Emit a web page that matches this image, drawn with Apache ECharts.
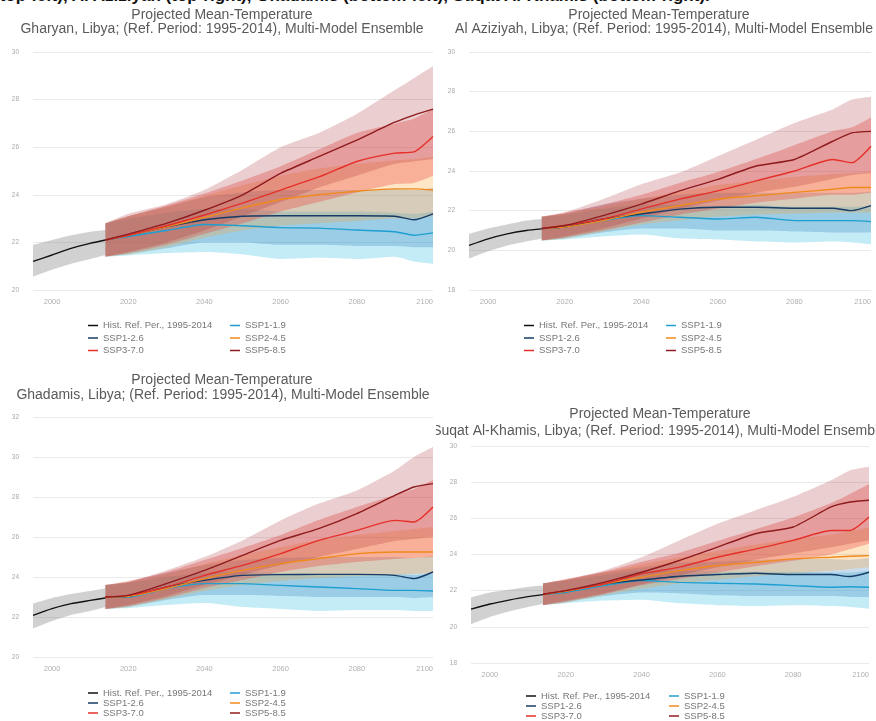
<!DOCTYPE html>
<html>
<head>
<meta charset="utf-8">
<title>Projected Mean-Temperature, Libya</title>
<script src="https://cdn.jsdelivr.net/npm/echarts@6/dist/echarts.min.js"></script>
<style>
    body { margin: 0; background: #fff; width: 876px; height: 721px; position: relative; overflow: hidden; }
    .panel { position: absolute; overflow: hidden; }
    .caption { position: absolute; left: -6px; top: -13px; white-space: nowrap; font: bold 17px/17px "Liberation Sans", Arial, sans-serif; color: #111; }
</style>
</head>
<body>
<div class="caption">(top-left), Al Aziziyah (top-right), Ghadamis (bottom-left), Suqat Al-Khamis (bottom-right).</div>
<div id="p1" class="panel" style="left:0;top:0;width:436px;height:365px"></div>
<div id="p2" class="panel" style="left:436px;top:0;width:440px;height:365px"></div>
<div id="p3" class="panel" style="left:0;top:365px;width:436px;height:356px"></div>
<div id="p4" class="panel" style="left:436px;top:365px;width:440px;height:356px"></div>
<script>
// 年份
var histYears = [1995, 2000, 2005, 2010, 2014];
var projYears = [2014, 2020, 2030, 2040, 2050, 2060, 2070, 2080, 2090, 2095, 2100];
var tickYears = [2000, 2020, 2040, 2060, 2080, 2100];

// Gharyan
var gharyanHist = [21.2, 21.47, 21.75, 21.96, 22.1];
var gharyanHistLo = [20.56, 20.85, 21.1, 21.3, 21.47];
var gharyanHistHi = [21.89, 22.1, 22.3, 22.45, 22.52];
var gharyan119 = [22.1, 22.25, 22.5, 22.75, 22.7, 22.62, 22.6, 22.52, 22.45, 22.3, 22.4];
var gharyan119Lo = [21.4, 21.45, 21.55, 21.6, 21.5, 21.3, 21.35, 21.3, 21.4, 21.2, 21.1];
var gharyan119Hi = [22.8, 23.0, 23.25, 23.4, 23.4, 23.3, 23.3, 23.3, 23.25, 23.2, 23.3];
var gharyan126 = [22.1, 22.3, 22.65, 22.95, 23.1, 23.12, 23.12, 23.12, 23.1, 22.95, 23.2];
var gharyan126Lo = [21.4, 21.5, 21.75, 22.0, 22.0, 21.9, 21.9, 21.85, 21.85, 21.8, 21.8];
var gharyan126Hi = [22.8, 23.1, 23.5, 23.9, 24.1, 24.2, 24.2, 24.2, 24.25, 24.2, 24.3];
var gharyan245 = [22.1, 22.3, 22.65, 23.05, 23.45, 23.8, 24.0, 24.15, 24.25, 24.25, 24.2];
var gharyan245Lo = [21.4, 21.5, 21.8, 22.2, 22.5, 22.7, 22.8, 22.9, 23.0, 23.0, 23.1];
var gharyan245Hi = [22.8, 23.1, 23.5, 23.95, 24.4, 24.8, 25.1, 25.3, 25.45, 25.5, 25.6];
var gharyan370 = [22.1, 22.3, 22.7, 23.15, 23.65, 24.2, 24.75, 25.4, 25.75, 25.8, 26.45];
var gharyan370Lo = [21.4, 21.55, 21.9, 22.35, 22.8, 23.3, 23.7, 24.1, 24.45, 24.5, 24.8];
var gharyan370Hi = [22.8, 23.1, 23.55, 24.05, 24.6, 25.2, 25.9, 26.6, 27.0, 27.2, 27.6];
var gharyan585 = [22.1, 22.35, 22.8, 23.35, 24.0, 24.9, 25.6, 26.3, 27.05, 27.35, 27.6];
var gharyan585Lo = [21.4, 21.6, 22.0, 22.5, 23.1, 23.7, 24.3, 24.8, 25.3, 25.4, 25.5];
var gharyan585Hi = [22.8, 23.2, 23.6, 24.2, 25.05, 26.0, 26.6, 27.4, 28.4, 28.9, 29.4];

// Al Aziziyah
var aziziyahHist = [20.25, 20.58, 20.83, 21.0, 21.08];
var aziziyahHistLo = [19.58, 19.95, 20.25, 20.45, 20.58];
var aziziyahHistHi = [20.83, 21.1, 21.3, 21.5, 21.58];
var aziziyah119 = [21.1, 21.17, 21.5, 21.75, 21.67, 21.58, 21.67, 21.5, 21.5, 21.5, 21.45];
var aziziyah119Lo = [20.5, 20.55, 20.7, 20.8, 20.6, 20.55, 20.45, 20.4, 20.45, 20.4, 20.3];
var aziziyah119Hi = [21.7, 21.8, 22.1, 22.3, 22.3, 22.25, 22.3, 22.2, 22.2, 22.2, 22.25];
var aziziyah126 = [21.1, 21.17, 21.58, 21.83, 22.08, 22.17, 22.17, 22.12, 22.12, 22.0, 22.25];
var aziziyah126Lo = [20.5, 20.6, 20.9, 21.1, 21.1, 21.0, 21.0, 20.95, 20.9, 20.9, 20.9];
var aziziyah126Hi = [21.7, 21.85, 22.3, 22.6, 22.8, 22.9, 22.9, 22.9, 22.9, 22.9, 22.95];
var aziziyah245 = [21.1, 21.17, 21.5, 21.92, 22.25, 22.58, 22.75, 22.92, 23.08, 23.17, 23.17];
var aziziyah245Lo = [20.5, 20.6, 20.95, 21.3, 21.5, 21.7, 21.8, 21.85, 21.9, 21.9, 21.9];
var aziziyah245Hi = [21.7, 21.85, 22.2, 22.6, 22.95, 23.3, 23.5, 23.7, 23.85, 23.9, 23.95];
var aziziyah370 = [21.1, 21.25, 21.58, 22.08, 22.58, 23.0, 23.5, 24.0, 24.58, 24.42, 25.25];
var aziziyah370Lo = [20.5, 20.65, 21.0, 21.4, 21.8, 22.1, 22.4, 22.6, 22.8, 22.8, 22.9];
var aziziyah370Hi = [21.7, 21.9, 22.3, 22.8, 23.4, 23.95, 24.6, 25.3, 26.0, 26.2, 26.7];
var aziziyah585 = [21.1, 21.25, 21.75, 22.33, 23.0, 23.58, 24.25, 24.58, 25.5, 25.92, 26.0];
var aziziyah585Lo = [20.5, 20.7, 21.1, 21.6, 22.1, 22.5, 22.9, 23.2, 23.6, 23.8, 23.9];
var aziziyah585Hi = [21.7, 21.92, 22.58, 23.33, 23.92, 24.75, 25.58, 26.42, 27.1, 27.6, 27.75];

// Ghadamis
var ghadamisHist = [22.08, 22.42, 22.67, 22.83, 22.95];
var ghadamisHistLo = [21.42, 21.8, 22.1, 22.3, 22.5];
var ghadamisHistHi = [22.67, 22.95, 23.15, 23.3, 23.42];
var ghadamis119 = [23.0, 23.0, 23.42, 23.67, 23.67, 23.58, 23.5, 23.42, 23.33, 23.33, 23.3];
var ghadamis119Lo = [22.4, 22.45, 22.6, 22.7, 22.5, 22.4, 22.3, 22.35, 22.35, 22.3, 22.3];
var ghadamis119Hi = [23.6, 23.7, 24.0, 24.2, 24.25, 24.2, 24.15, 24.15, 24.15, 24.1, 24.15];
var ghadamis126 = [23.0, 23.03, 23.5, 23.83, 24.08, 24.12, 24.13, 24.13, 24.08, 23.92, 24.25];
var ghadamis126Lo = [22.4, 22.5, 22.85, 23.1, 23.1, 23.05, 23.0, 23.0, 23.0, 22.95, 23.0];
var ghadamis126Hi = [23.6, 23.75, 24.2, 24.6, 24.85, 24.95, 25.0, 25.0, 25.0, 24.95, 25.05];
var ghadamis245 = [23.0, 23.03, 23.42, 23.92, 24.33, 24.67, 24.92, 25.17, 25.25, 25.25, 25.25];
var ghadamis245Lo = [22.4, 22.5, 22.9, 23.3, 23.6, 23.8, 23.95, 24.05, 24.1, 24.15, 24.2];
var ghadamis245Hi = [23.6, 23.75, 24.15, 24.65, 25.1, 25.5, 25.85, 26.1, 26.3, 26.4, 26.5];
var ghadamis370 = [23.0, 23.08, 23.5, 24.08, 24.58, 25.17, 25.83, 26.33, 26.83, 26.75, 27.5];
var ghadamis370Lo = [22.4, 22.55, 22.95, 23.45, 23.85, 24.25, 24.55, 24.75, 24.9, 24.95, 25.0];
var ghadamis370Hi = [23.6, 23.8, 24.25, 24.85, 25.45, 26.1, 26.85, 27.5, 28.1, 28.4, 28.85];
var ghadamis585 = [23.0, 23.08, 23.67, 24.33, 25.08, 25.83, 26.42, 27.17, 28.08, 28.5, 28.67];
var ghadamis585Lo = [22.4, 22.6, 23.05, 23.6, 24.1, 24.6, 25.0, 25.4, 25.8, 25.9, 26.0];
var ghadamis585Hi = [23.6, 23.75, 24.33, 25.0, 25.83, 26.83, 27.67, 28.33, 29.33, 30.0, 30.5];

// Suqat Al-Khamis
var khamisHist = [20.98, 21.26, 21.48, 21.67, 21.78];
var khamisHistLo = [20.15, 20.55, 20.85, 21.1, 21.26];
var khamisHistHi = [21.63, 21.9, 22.05, 22.2, 22.28];
var khamis119 = [21.8, 21.9, 22.28, 22.56, 22.46, 22.41, 22.37, 22.28, 22.19, 22.22, 22.19];
var khamis119Lo = [21.2, 21.3, 21.45, 21.5, 21.3, 21.2, 21.15, 21.2, 21.15, 21.1, 21.0];
var khamis119Hi = [22.4, 22.55, 22.85, 23.1, 23.1, 23.05, 23.05, 23.05, 23.0, 23.0, 23.1];
var khamis126 = [21.8, 21.96, 22.37, 22.59, 22.8, 22.89, 22.96, 22.89, 22.89, 22.78, 23.02];
var khamis126Lo = [21.2, 21.35, 21.7, 21.9, 21.85, 21.75, 21.7, 21.7, 21.7, 21.65, 21.65];
var khamis126Hi = [22.4, 22.6, 23.0, 23.3, 23.55, 23.6, 23.7, 23.75, 23.75, 23.7, 23.8];
var khamis245 = [21.8, 21.96, 22.37, 22.74, 23.11, 23.39, 23.57, 23.76, 23.85, 23.9, 23.94];
var khamis245Lo = [21.2, 21.35, 21.75, 22.1, 22.4, 22.6, 22.8, 22.95, 23.1, 23.2, 23.3];
var khamis245Hi = [22.4, 22.6, 23.0, 23.45, 23.85, 24.2, 24.55, 24.85, 25.1, 25.3, 25.5];
var khamis370 = [21.8, 22.0, 22.37, 22.93, 23.3, 23.85, 24.3, 24.78, 25.33, 25.33, 26.07];
var khamis370Lo = [21.2, 21.4, 21.8, 22.3, 22.65, 23.0, 23.35, 23.65, 24.0, 24.3, 24.6];
var khamis370Hi = [22.4, 22.65, 23.05, 23.6, 24.1, 24.75, 25.4, 26.05, 26.85, 27.35, 27.9];
var khamis585 = [21.8, 22.0, 22.46, 23.02, 23.67, 24.41, 25.15, 25.52, 26.63, 26.9, 27.0];
var khamis585Lo = [21.2, 21.45, 21.85, 22.35, 22.85, 23.3, 23.7, 24.05, 24.4, 24.6, 24.78];
var khamis585Hi = [22.4, 22.6, 23.11, 23.85, 24.78, 25.7, 26.44, 27.19, 28.11, 28.65, 28.85];

var names = ['Hist. Ref. Per., 1995-2014', 'SSP1-1.9', 'SSP1-2.6', 'SSP2-4.5', 'SSP3-7.0', 'SSP5-8.5'];
var lineColors = ['#111111', '#1f9fd0', '#173c66', '#f08a1c', '#e5302a', '#8e1b1e'];
var bandColors = ['rgba(120,120,120,0.34)', 'rgba(40,185,225,0.28)', 'rgba(30,110,180,0.24)',
    'rgba(250,165,50,0.28)', 'rgba(235,50,45,0.3)', 'rgba(165,30,35,0.22)'];

// x 轴类目 1995-2100
var categories = [];
for (var y = 1995; y <= 2100; y++) categories.push(String(y));

function pairs(xs, ys) {
    return xs.map(function (x, i) { return [String(x), ys[i]]; });
}
function spread(xs, lo, hi) {
    return xs.map(function (x, i) { return [String(x), +(hi[i] - lo[i]).toFixed(3)]; });
}
function band(id, xs, lo, hi, color) {
    return [
        {name: id + '-lo', type: 'line', stack: id, data: pairs(xs, lo), symbol: 'none', smooth: 0.2,
            lineStyle: {opacity: 0}, silent: true},
        {name: id + '-hi', type: 'line', stack: id, data: spread(xs, lo, hi), symbol: 'none', smooth: 0.2,
            lineStyle: {opacity: 0}, areaStyle: {color: color, opacity: 1}, silent: true}
    ];
}
function line(i, xs, ys) {
    return {name: names[i], type: 'line', data: pairs(xs, ys), symbol: 'none', smooth: 0.2, z: 5,
        lineStyle: {color: lineColors[i], width: 1.4}, itemStyle: {color: lineColors[i]}};
}

function makeChart(id, p) {
    var chart = echarts.init(document.getElementById(id));
    var fam = '"Liberation Sans", Arial, sans-serif';
    var series = [];
    series = series.concat(band('bh', histYears, p.hist[1], p.hist[2], bandColors[0]));
    for (var k = 1; k <= 5; k++) {
        series = series.concat(band('b' + k, projYears, p.proj[k - 1][1], p.proj[k - 1][2], bandColors[k]));
    }
    series.push(line(0, histYears, p.hist[0]));
    for (var j = 1; j <= 5; j++) series.push(line(j, projYears, p.proj[j - 1][0]));

    var legendBase = {
        orient: 'vertical', icon: 'rect', itemWidth: 10, itemHeight: 1.5, itemGap: p.legendGap,
        padding: 0, height: 60,
        textStyle: {fontSize: 9.5, lineHeight: 9, color: '#777', fontFamily: fam},
        selectedMode: false, top: p.legendTop
    };
    var option = {
        animation: false,
        textStyle: {fontFamily: fam},
        graphic: [
            {type: 'text', x: p.t1[0], y: p.t1[1], style: {text: 'Projected Mean-Temperature', fill: '#5a5a5a',
                font: '14px ' + fam, textAlign: 'center', textVerticalAlign: 'middle'}},
            {type: 'text', x: p.t2[0], y: p.t2[1], style: {text: p.place + ', Libya; (Ref. Period: 1995-2014), Multi-Model Ensemble',
                fill: '#5a5a5a', font: '14px ' + fam, textAlign: 'center', textVerticalAlign: 'middle'}}
        ],
        legend: [
            echarts.util.extend({left: p.legendLeft[0], data: [names[0], names[2], names[4]]}, legendBase),
            echarts.util.extend({left: p.legendLeft[1], data: [names[1], names[3], names[5]]}, legendBase)
        ],
        grid: p.grid,
        xAxis: {
            type: 'category', data: categories, boundaryGap: false,
            axisLine: {show: false}, axisTick: {show: false},
            axisLabel: {
                fontSize: 7.5, color: '#b0b0b0', margin: 8, alignMaxLabel: 'right',
                interval: function (idx, val) { return tickYears.indexOf(+val) >= 0; }
            }
        },
        yAxis: {
            type: 'value', min: p.yMin, max: p.yMax, interval: 2,
            axisLine: {show: false}, axisTick: {show: false},
            axisLabel: {fontSize: 6.5, color: '#aaa', margin: 14},
            splitLine: {lineStyle: {color: '#eaeaea', width: 1}}
        },
        series: series
    };
    chart.setOption(option);
    return chart;
}

makeChart('p1', {
    place: 'Gharyan', t1: [222, 15], t2: [222, 29],
    grid: {left: 33, right: 1, top: 52, bottom: 75}, yMin: 20, yMax: 30,
    legendLeft: [88, 230], legendTop: 320.5, legendGap: 2.5,
    hist: [gharyanHist, gharyanHistLo, gharyanHistHi],
    proj: [[gharyan119, gharyan119Lo, gharyan119Hi], [gharyan126, gharyan126Lo, gharyan126Hi],
        [gharyan245, gharyan245Lo, gharyan245Hi], [gharyan370, gharyan370Lo, gharyan370Hi],
        [gharyan585, gharyan585Lo, gharyan585Hi]]
});
makeChart('p2', {
    place: 'Al Aziziyah', t1: [223, 15], t2: [228, 29],
    grid: {left: 33, right: 5, top: 52, bottom: 75}, yMin: 18, yMax: 30,
    legendLeft: [88, 230], legendTop: 320.5, legendGap: 2.5,
    hist: [aziziyahHist, aziziyahHistLo, aziziyahHistHi],
    proj: [[aziziyah119, aziziyah119Lo, aziziyah119Hi], [aziziyah126, aziziyah126Lo, aziziyah126Hi],
        [aziziyah245, aziziyah245Lo, aziziyah245Hi], [aziziyah370, aziziyah370Lo, aziziyah370Hi],
        [aziziyah585, aziziyah585Lo, aziziyah585Hi]]
});
makeChart('p3', {
    place: 'Ghadamis', t1: [222, 15], t2: [223, 30],
    grid: {left: 33, right: 3, top: 52, bottom: 64}, yMin: 20, yMax: 32,
    legendLeft: [88, 230], legendTop: 323, legendGap: 0,
    hist: [ghadamisHist, ghadamisHistLo, ghadamisHistHi],
    proj: [[ghadamis119, ghadamis119Lo, ghadamis119Hi], [ghadamis126, ghadamis126Lo, ghadamis126Hi],
        [ghadamis245, ghadamis245Lo, ghadamis245Hi], [ghadamis370, ghadamis370Lo, ghadamis370Hi],
        [ghadamis585, ghadamis585Lo, ghadamis585Hi]]
});
makeChart('p4', {
    place: 'Suqat Al-Khamis', t1: [224, 49], t2: [223, 66],
    grid: {left: 35, right: 7, top: 81, bottom: 58}, yMin: 18, yMax: 30,
    legendLeft: [90, 233], legendTop: 326, legendGap: 0,
    hist: [khamisHist, khamisHistLo, khamisHistHi],
    proj: [[khamis119, khamis119Lo, khamis119Hi], [khamis126, khamis126Lo, khamis126Hi],
        [khamis245, khamis245Lo, khamis245Hi], [khamis370, khamis370Lo, khamis370Hi],
        [khamis585, khamis585Lo, khamis585Hi]]
});
</script>
</body>
</html>
